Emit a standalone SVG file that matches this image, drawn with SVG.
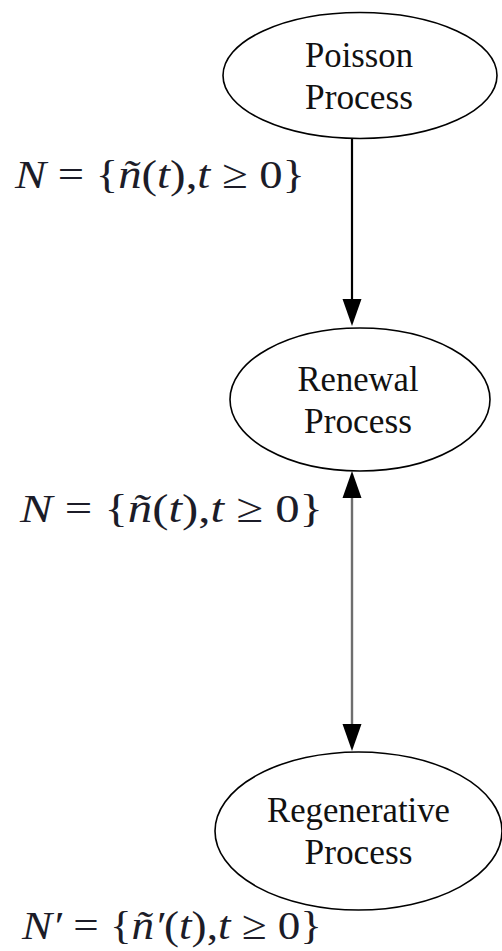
<svg xmlns="http://www.w3.org/2000/svg" width="502" height="951" viewBox="0 0 502 951">
<style>
.node{fill:#fff;stroke:#000;stroke-width:1.6}
.lbl{font-family:"Liberation Serif","Times New Roman",serif;font-size:36px;fill:#111;text-anchor:middle}
.math{font-family:"Liberation Serif","Times New Roman",serif;font-size:41px;fill:#1c1c28}
.it{font-style:italic}
.edge{stroke:#000;stroke-width:2.2;fill:none}
.edge2{stroke:#6e6e6e;stroke-width:2.4;fill:none}
</style>
<defs>
<marker id="ah" markerUnits="userSpaceOnUse" markerWidth="28" markerHeight="20" refX="0" refY="9.5" orient="auto-start-reverse" viewBox="0 0 28 19">
<path d="M0,0 L27,9.5 L0,19 z" fill="#000"/>
</marker>
</defs>
<rect width="502" height="951" fill="#fff"/>
<g id="connectors">
<line class="edge" x1="352" y1="138" x2="352" y2="299" marker-end="url(#ah)"/>
<line class="edge2" x1="352" y1="498" x2="352" y2="724" marker-start="url(#ah)" marker-end="url(#ah)"/>
</g>
<g id="poisson">
<ellipse class="node" cx="360" cy="75.5" rx="137" ry="63"/>
<text class="lbl" x="359" y="67" textLength="108" lengthAdjust="spacingAndGlyphs">Poisson</text>
<text class="lbl" x="359" y="109" textLength="108" lengthAdjust="spacingAndGlyphs">Process</text>
</g>
<g id="renewal">
<ellipse class="node" cx="360" cy="399.5" rx="130" ry="71.5"/>
<text class="lbl" x="358" y="391" textLength="121" lengthAdjust="spacingAndGlyphs">Renewal</text>
<text class="lbl" x="358" y="433" textLength="108" lengthAdjust="spacingAndGlyphs">Process</text>
</g>
<g id="regenerative">
<ellipse class="node" cx="358.5" cy="831" rx="143.5" ry="79"/>
<text class="lbl" x="358.5" y="822" textLength="183" lengthAdjust="spacingAndGlyphs">Regenerative</text>
<text class="lbl" x="358.5" y="864" textLength="108" lengthAdjust="spacingAndGlyphs">Process</text>
</g>
<g id="label1">
<text class="math" x="15" y="188" textLength="290" lengthAdjust="spacingAndGlyphs"><tspan class="it">N</tspan> = {<tspan class="it">ñ</tspan>(<tspan class="it">t</tspan>),<tspan class="it">t</tspan> ≥ 0}</text>
</g>
<g id="label2">
<text class="math" x="20" y="522" textLength="303" lengthAdjust="spacingAndGlyphs"><tspan class="it">N</tspan> = {<tspan class="it">ñ</tspan>(<tspan class="it">t</tspan>),<tspan class="it">t</tspan> ≥ 0}</text>
</g>
<g id="label3">
<text class="math" x="22" y="939" textLength="300" lengthAdjust="spacingAndGlyphs"><tspan class="it">N′</tspan> = {<tspan class="it">ñ′</tspan>(<tspan class="it">t</tspan>),<tspan class="it">t</tspan> ≥ 0}</text>
</g>
</svg>
